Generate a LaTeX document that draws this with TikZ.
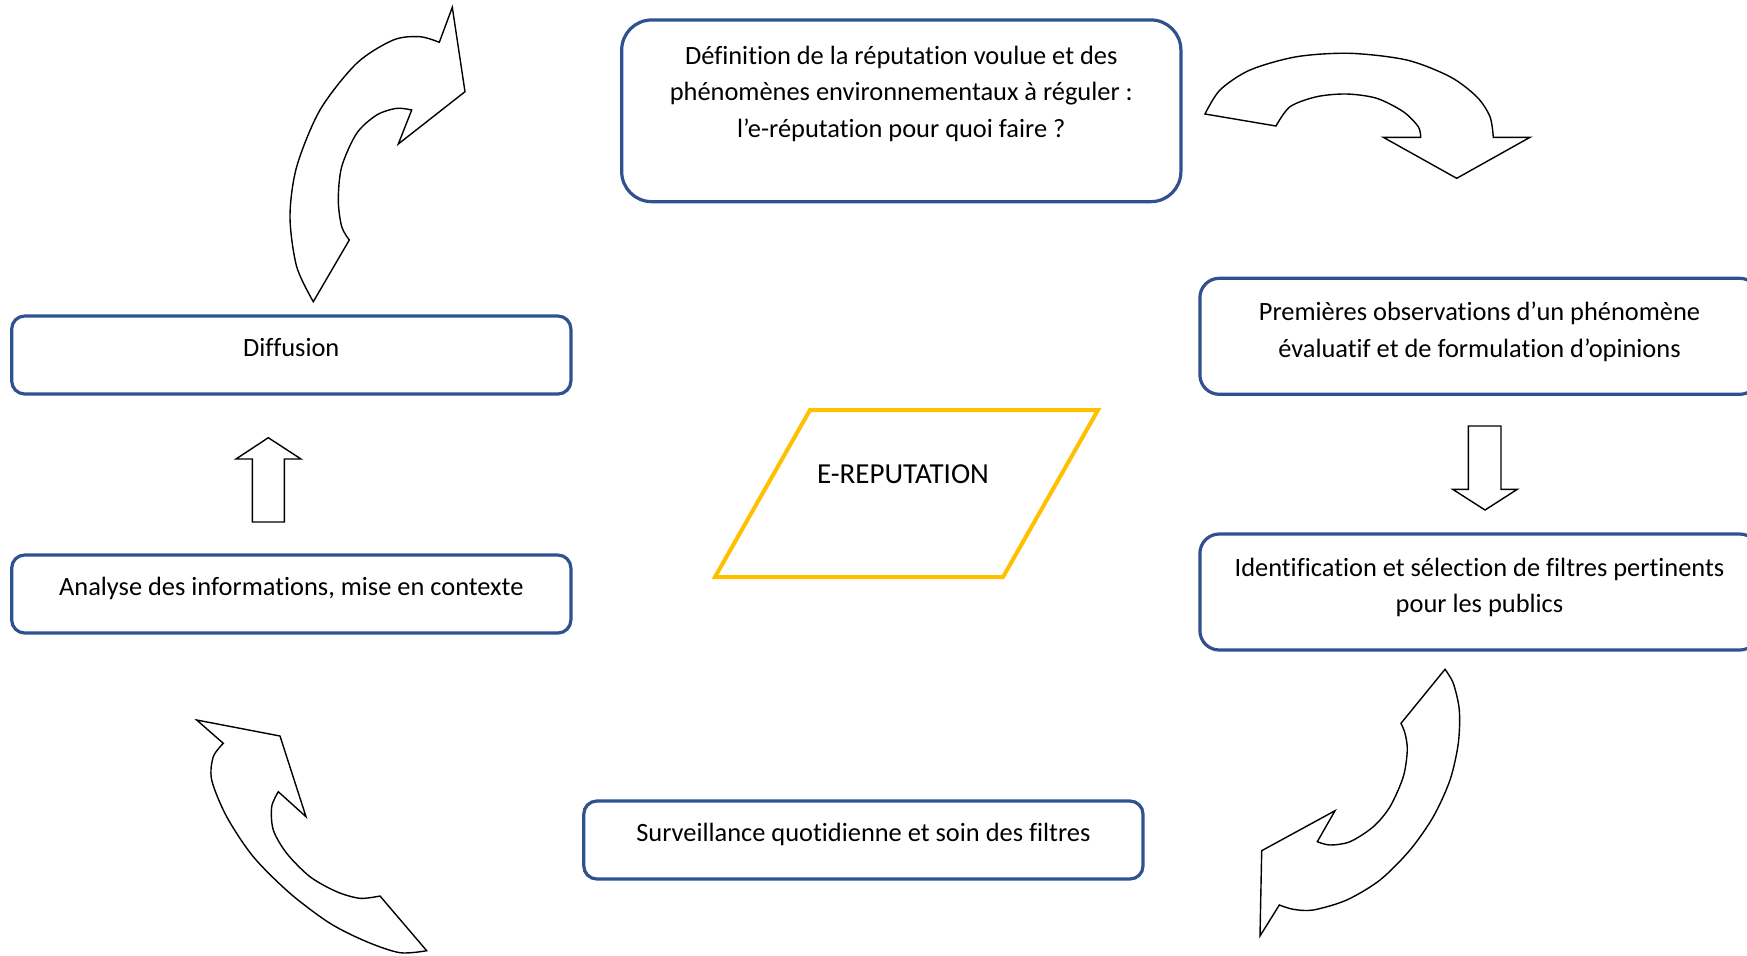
\documentclass[tikz,border=0pt]{standalone}
\usepackage{fontspec}
\setmainfont{Carlito}[Ligatures={NoCommon,TeX}]
\usetikzlibrary{calc}
\definecolor{boxblue}{RGB}{47,82,143}
\definecolor{repyellow}{RGB}{255,192,0}
\newcommand\mylines[1]{\begin{tabular}[t]{@{}c@{}}#1\end{tabular}}
\begin{document}
\begin{tikzpicture}[x=0.5pt,y=-0.5pt,
  stepbox/.style={draw=boxblue, line width=1.6pt, fill=white, minimum width=279.6pt, inner sep=0pt},
  txt/.style={anchor=base, inner sep=0pt, font=\fontsize{13.2}{18.3}\selectfont},
  bigtxt/.style={anchor=base, inner sep=0pt, font=\fontsize{14.5}{18}\selectfont},
  blockarrow/.style={draw=black, line width=0.7pt, fill=white, line join=miter},
  plan/.style={draw=repyellow, line width=2pt, line join=miter}]
\useasboundingbox (0,0) rectangle (1747,955);
\fill[white] (0,0) rectangle (1747,955);
\clip (0,0) rectangle (1747,955);

% boxes
\node[stepbox, minimum height=90.85pt, rounded corners=15pt] (def) at (901.3,110.8) {};
\node[stepbox, minimum height=39pt, rounded corners=6.5pt] (diff) at (291.3,355) {};
\node[stepbox, minimum height=39pt, rounded corners=6.5pt] (ana) at (291.3,594) {};
\node[stepbox, minimum height=58pt, rounded corners=9.7pt] (prem) at (1479.5,336.3) {};
\node[stepbox, minimum height=58pt, rounded corners=9.7pt] (ident) at (1479.5,592) {};
\node[stepbox, minimum height=39pt, rounded corners=6.5pt] (surv) at (863.4,840) {};

% texts
\node[txt] (tdef) at (901.3,64) {\mylines{Définition de la réputation voulue et des\\ phénomènes environnementaux à réguler :\\ l’e-réputation pour quoi faire ?}};
\node[txt] (tdiff) at (291.3,356) {Diffusion};
\node[txt] (tana) at (291.3,595) {Analyse des informations, mise en contexte};
\node[txt] (tprem) at (1479.5,320.7) {\mylines{Premières observations d’un phénomène\\ évaluatif et de formulation d’opinions}};
\node[txt] (tident) at (1479.5,576) {\mylines{Identification et sélection de filtres pertinents\\ pour les publics}};
\node[txt] (tsurv) at (863.4,841) {Surveillance quotidienne et soin des filtres};

% central parallelogram
\draw[plan] (810,410) -- (1098,410) -- (1003,577) -- (715,577) -- cycle;
\node[bigtxt] (erep) at (903,483) {E-REPUTATION};

% straight block arrows
\draw[blockarrow] (252.3,522) -- (252.3,459) -- (236,459) -- (268.3,437.7) -- (301,459) -- (284.3,459) -- (284.3,522) -- cycle;
\draw[blockarrow] (1468.3,426) -- (1468.3,489.3) -- (1452.7,489.3) -- (1485,510) -- (1517.3,489.3) -- (1501,489.3) -- (1501,426) -- cycle;

% curved arrow top-left
\draw[blockarrow] (313.3,301.7) -- plot[smooth] coordinates {(349.3,240) (341.7,226.7) (338.3,200) (341.7,166.7) (356.7,133.3) (376.7,115) (396.7,108.3) (411.7,110)}
  -- (398.3,144) -- (465,91.7) -- (452.3,7.3)
  -- plot[smooth] coordinates {(439.3,42.3) (420,36.7) (393.3,40) (356.7,63.3) (320,110) (296.7,166.7) (290,216.7) (296.7,266.7) (313.3,301.7)} -- cycle;

% curved arrow top-right
\draw[blockarrow] (1205,114) -- plot[smooth] coordinates {(1276,126) (1290,106.7) (1316.7,96.7) (1346.7,94) (1376.7,98.3) (1403.3,111.7) (1418.3,126.7) (1420.7,137.3)}
  -- (1383.3,137.3) -- (1456.7,178.3) -- (1530,137.3)
  -- plot[smooth] coordinates {(1493.3,137.3) (1490,116.7) (1476.7,96.7) (1450,76.7) (1406.7,60) (1350,53.3) (1296.7,56.7) (1250,70) (1220,90) (1205,114)} -- cycle;

% curved arrow bottom-right
\draw[blockarrow] (1401,723.3) -- plot[smooth] coordinates {(1445,669.3) (1453.3,683.3) (1459.3,710) (1458.3,743.3) (1450,780) (1433.3,816.7) (1410,850) (1380,880) (1346.7,900) (1313.3,910) (1293.3,909.3) (1279.3,905)}
  -- (1260,936) -- (1261.7,850.7) -- (1335,810.7)
  -- plot[smooth] coordinates {(1317.3,841.7) (1330,845) (1350,841.7) (1373.3,826.7) (1390,806.7) (1403.3,776.7) (1407.3,750) (1405,733.3) (1401,723.3)} -- cycle;

% curved arrow bottom-left
\draw[blockarrow] (196.7,720) -- (280,736) -- (306,816.7)
  -- plot[smooth] coordinates {(278.3,791.7) (271.7,806.7) (273.3,830) (286.7,853.3) (310,876.7) (336.7,891.7) (360,898.3) (380,896)}
  -- plot[smooth] coordinates {(426.7,950.7) (400,952.7) (366.7,941.7) (330,923.3) (290,893.3) (253.3,856.7) (226.7,816.7) (211.7,780) (213.3,756.7) (223.3,743.3)} -- cycle;
\end{tikzpicture}
\end{document}
